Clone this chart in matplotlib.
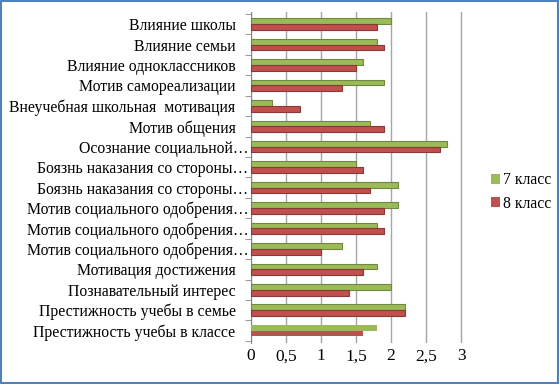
import matplotlib

matplotlib.use("Agg")
import matplotlib.pyplot as plt
import matplotlib.transforms as mtransforms
import numpy as np
from matplotlib.patches import Rectangle

categories = [
    "Престижность учебы в классе",
    "Престижность учебы в семье",
    "Познавательный интерес",
    "Мотивация достижения",
    "Мотив социального одобрения…",
    "Мотив социального одобрения…",
    "Мотив социального одобрения…",
    "Боязнь наказания со стороны…",
    "Боязнь наказания со стороны…",
    "Осознание социальной…",
    "Мотив общения",
    "Внеучебная школьная  мотивация",
    "Мотив самореализации",
    "Влияние одноклассников",
    "Влияние семьи",
    "Влияние школы",
]
grade7 = [1.8, 2.2, 2.0, 1.8, 1.3, 1.8, 2.1, 2.1, 1.5, 2.8, 1.7, 0.3, 1.9, 1.6, 1.8, 2.0]
grade8 = [1.6, 2.2, 1.4, 1.6, 1.0, 1.9, 1.9, 1.7, 1.6, 2.7, 1.9, 0.7, 1.3, 1.5, 1.9, 1.8]
x_ticks = [0, 0.5, 1, 1.5, 2, 2.5, 3]
x_labels = ["0", "0,5", "1", "1,5", "2", "2,5", "3"]

plt.rcParams["font.family"] = ["Liberation Serif", "DejaVu Serif"]

fig = plt.figure(figsize=(5.6, 3.84), dpi=100)
ax = fig.add_axes([0.448, 0.107, 0.388, 0.862])

y = np.arange(len(categories))
h = 0.28
ax.barh(y + h / 2, grade7, height=h, color="#9BBB59", edgecolor="#71893F", linewidth=0.8, label="7 класс", zorder=3)
ax.barh(y - h / 2, grade8, height=h, color="#C0504D", edgecolor="#8C3836", linewidth=0.8, label="8 класс", zorder=3)

ax.set_xlim(0, 3.1)
ax.set_ylim(-0.6, len(categories) - 0.4)
ax.set_xticks(x_ticks, x_labels, fontsize=12.5)
ax.set_yticks(y, categories, fontsize=11.3)
ax.set_yticks(np.arange(len(categories) + 1) - 0.5, minor=True)
ax.tick_params(axis="y", which="major", length=0, pad=11)
ax.tick_params(axis="y", which="minor", length=4, color="#868686", direction="out")
ax.tick_params(axis="x", length=0, pad=4)
ax.grid(axis="x", color="#A6A6A6", linewidth=1.0, zorder=0)
for side in ("top", "right", "bottom"):
    ax.spines[side].set_visible(False)
ax.spines["left"].set_color("#868686")

# truncated labels run on closer to the axis
shift = mtransforms.ScaledTranslation(13 / 100, 0, fig.dpi_scale_trans)
for lbl in ax.get_yticklabels():
    if lbl.get_text().endswith("…"):
        lbl.set_transform(lbl.get_transform() + shift)

handles, labels = ax.get_legend_handles_labels()
for hd in handles:
    hd.patches[0].set_edgecolor("none")
fig.legend(handles, labels, loc="center left", bbox_to_anchor=(0.865, 0.5), frameon=False, fontsize=11.3,
           handlelength=0.6, handleheight=0.6, handletextpad=0.2, labelspacing=0.45, borderaxespad=0)

fig.patches.append(Rectangle((0.001, 0.002), 0.995, 0.995, transform=fig.transFigure,
                             fill=False, edgecolor="#4F81BD", linewidth=1.5))

fig.savefig("out.png", dpi=100)
